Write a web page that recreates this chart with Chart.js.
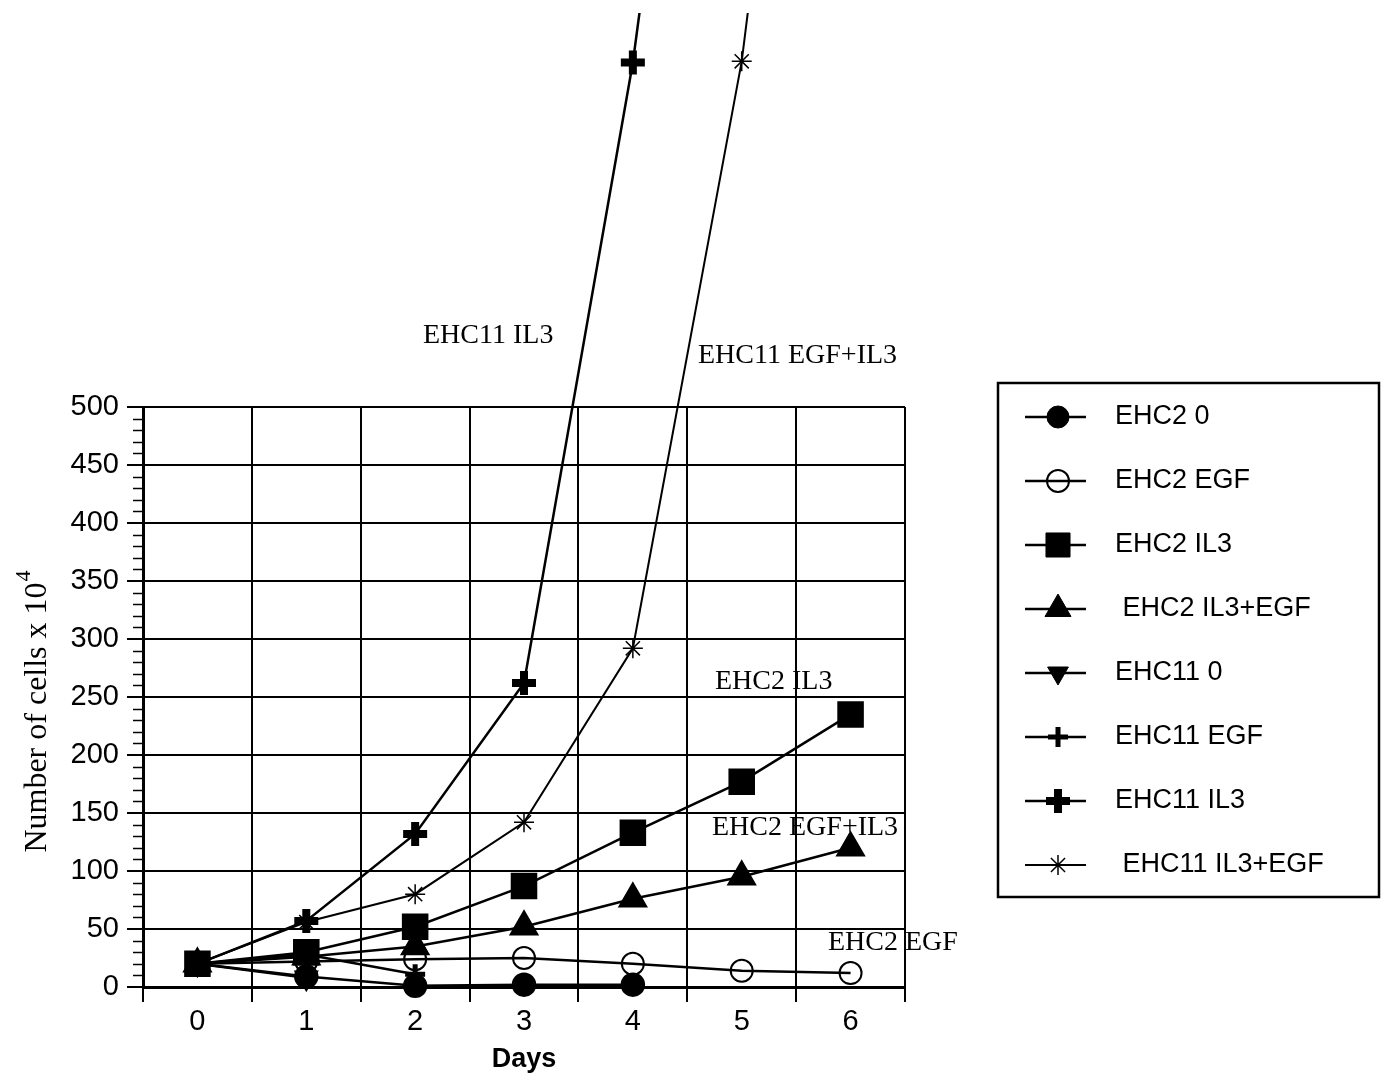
<!DOCTYPE html>
<html>
<head>
<meta charset="UTF-8">
<title>Cell growth</title>
<script src="https://cdn.jsdelivr.net/npm/chart.js"></script>
<style>
  html, body { margin: 0; padding: 0; background: #fff; }
  canvas { display: block; }
</style>
</head>
<body>
<canvas id="growthChart" width="1382" height="1076"></canvas>
<script>
// days on the x axis
const days = ['0', '1', '2', '3', '4', '5', '6'];

// number of cells x 10^4
const ehc2None     = [20, 9, 1, 2, 2];
const ehc2Egf      = [20, 22, 24, 25, 20, 14, 12];
const ehc2Il3      = [20, 30, 52, 87, 133, 177, 235];
const ehc2Il3Egf   = [20, 26, 35, 52, 76, 95, 120];
const ehc11None    = [20, 8];
const ehc11Egf     = [20, 28, 11];
const ehc11Il3     = [20, 57, 132, 262, 797, 1500];
const ehc11Il3Egf  = [20, 56, 80, 142, 292, 798, 1550];

const yMin = 0;
const yMax = 500;
const yStep = 50;
const yMinorStep = 10;

const seriesLabels = ['EHC2 0', 'EHC2 EGF', 'EHC2 IL3', ' EHC2 IL3+EGF',
  'EHC11 0', 'EHC11 EGF', 'EHC11 IL3', ' EHC11 IL3+EGF'];

const curveNotes = ['EHC11 IL3', 'EHC11 EGF+IL3', 'EHC2 IL3', 'EHC2 EGF+IL3', 'EHC2 EGF'];

const SANS = '"Liberation Sans", Arial, sans-serif';
const SERIF = '"Liberation Serif", "Times New Roman", serif';
const TOP_LIMIT = 13; // the curves are cut off here, above the plot

function series(label, data, style) {
  return Object.assign({
    label: label,
    data: data,
    borderColor: '#000',
    backgroundColor: '#000',
    pointBorderColor: '#000',
    pointBackgroundColor: '#000',
    borderWidth: 2.5,
    tension: 0,
    clip: { left: 20, top: 407 - TOP_LIMIT, right: 20, bottom: 20 }
  }, style);
}

const datasets = [
  series(seriesLabels[0], ehc2None,    { pointStyle: 'circle', pointRadius: 11 }),
  series(seriesLabels[1], ehc2Egf,     { pointStyle: 'circle', pointRadius: 11, pointBackgroundColor: 'rgba(0,0,0,0)', pointBorderWidth: 2 }),
  series(seriesLabels[2], ehc2Il3,     { pointStyle: 'rect', pointRadius: 17, order: -1 }),
  series(seriesLabels[3], ehc2Il3Egf,  { pointStyle: 'triangle', pointRadius: 15 }),
  series(seriesLabels[4], ehc11None,   { pointStyle: 'triangle', pointRadius: 12, pointRotation: 180 }),
  series(seriesLabels[5], ehc11Egf,    { pointStyle: 'cross', pointRadius: 10, pointBorderWidth: 5 }),
  series(seriesLabels[6], ehc11Il3,    { pointStyle: 'cross', pointRadius: 12, pointBorderWidth: 8 }),
  series(seriesLabels[7], ehc11Il3Egf, { pointStyle: 'star', pointRadius: 10, pointBorderWidth: 1.5, borderWidth: 2 })
];

// markers above the plot area are skipped by the library, draw them again
const highPoints = {
  id: 'highPoints',
  afterDatasetsDraw(chart) {
    const area = { left: 0, top: TOP_LIMIT, right: chart.width, bottom: chart.height };
    chart.getSortedVisibleDatasetMetas().forEach(meta => {
      meta.data.forEach(pt => {
        if (pt.y < chart.chartArea.top && pt.y > TOP_LIMIT) pt.draw(chart.ctx, area);
      });
    });
  }
};

// minor ticks on the y axis, the ylabel with its superscript, curve notes and the boxed legend
const extras = {
  id: 'extras',
  afterDraw(chart) {
    const ctx = chart.ctx;
    const y = chart.scales.y;
    const left = chart.chartArea.left;

    ctx.save();
    ctx.strokeStyle = '#000';
    ctx.lineWidth = 1.5;
    for (let v = yMin; v <= yMax; v += yMinorStep) {
      if (v % yStep === 0) continue;
      const py = Math.round(y.getPixelForValue(v)) + 0.5;
      ctx.beginPath();
      ctx.moveTo(left - 10, py);
      ctx.lineTo(left, py);
      ctx.stroke();
    }

    // y title: Number of cells x 10^4
    ctx.translate(38, 712);
    ctx.rotate(-Math.PI / 2);
    ctx.fillStyle = '#000';
    ctx.textBaseline = 'middle';
    ctx.font = '32px ' + SERIF;
    const main = 'Number of cells x 10';
    const wMain = ctx.measureText(main).width;
    ctx.font = '22px ' + SERIF;
    const wSup = ctx.measureText('4').width;
    const start = -(wMain + wSup) / 2;
    ctx.font = '32px ' + SERIF;
    ctx.textAlign = 'left';
    ctx.fillText(main, start, 0);
    ctx.font = '22px ' + SERIF;
    ctx.fillText('4', start + wMain + 1, -14);
    ctx.restore();

    // labels next to the curves
    const notePos = [[423, 336], [698, 356], [715, 682], [712, 828], [828, 943]];
    ctx.save();
    ctx.fillStyle = '#000';
    ctx.font = '28px ' + SERIF;
    ctx.textAlign = 'left';
    ctx.textBaseline = 'middle';
    curveNotes.forEach((t, i) => ctx.fillText(t, notePos[i][0], notePos[i][1]));
    ctx.restore();

    // legend box
    ctx.save();
    ctx.strokeStyle = '#000';
    ctx.lineWidth = 2.5;
    ctx.strokeRect(998, 383, 381, 514);
    ctx.font = '27px ' + SANS;
    ctx.textAlign = 'left';
    ctx.textBaseline = 'middle';
    chart.data.datasets.forEach((ds, i) => {
      const ry = 417 + i * 64;
      ctx.strokeStyle = '#000';
      ctx.lineWidth = ds.borderWidth;
      ctx.beginPath();
      ctx.moveTo(1025, ry);
      ctx.lineTo(1086, ry);
      ctx.stroke();
      const opts = {
        pointStyle: ds.pointStyle,
        radius: ds.pointRadius,
        rotation: ds.pointRotation || 0,
        borderWidth: ds.pointBorderWidth || 1
      };
      ctx.lineWidth = opts.borderWidth;
      ctx.fillStyle = ds.pointBackgroundColor;
      Chart.helpers.drawPoint(ctx, opts, 1058, ry);
      ctx.fillStyle = '#000';
      ctx.fillText(ds.label, 1115, ry);
    });
    ctx.restore();
  }
};

new Chart(document.getElementById('growthChart').getContext('2d'), {
  type: 'line',
  data: { labels: days, datasets: datasets },
  options: {
    responsive: false,
    animation: false,
    devicePixelRatio: 1,
    events: [],
    layout: { padding: { left: 0, top: 407, right: 477, bottom: 0 } },
    plugins: {
      legend: { display: false },
      tooltip: { enabled: false }
    },
    scales: {
      x: {
        type: 'category',
        offset: true,
        grid: {
          offset: true,
          color: '#000',
          lineWidth: 2,
          tickLength: 15,
          tickColor: '#000'
        },
        border: { color: '#000', width: 3 },
        ticks: {
          color: '#000',
          font: { family: SANS, size: 29 },
          padding: 3,
          maxRotation: 0
        },
        title: {
          display: true,
          text: 'Days',
          color: '#000',
          font: { family: SANS, size: 27, weight: 'bold' },
          padding: { top: 4, bottom: 0 }
        },
        afterFit(scale) { scale.height = 89; }
      },
      y: {
        min: yMin,
        max: yMax,
        ticks: {
          stepSize: yStep,
          color: '#000',
          font: { family: SANS, size: 29 },
          padding: 8
        },
        grid: {
          color: '#000',
          lineWidth: 2,
          tickLength: 16,
          tickColor: '#000'
        },
        border: { color: '#000', width: 3 },
        afterFit(scale) { scale.width = 143; }
      }
    }
  },
  plugins: [highPoints, extras]
});
</script>
</body>
</html>
